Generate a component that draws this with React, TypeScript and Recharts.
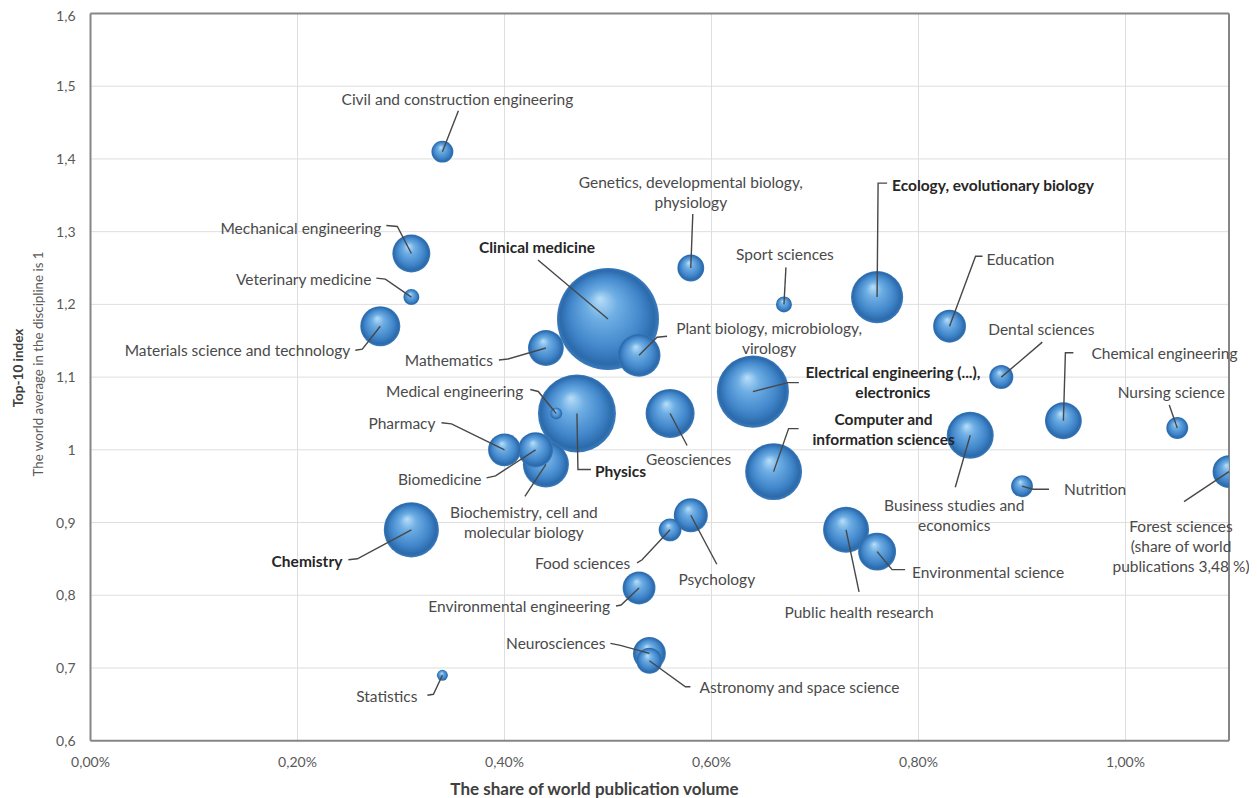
import { ScatterChart, Scatter, XAxis, YAxis, ZAxis, CartesianGrid, ReferenceLine } from "recharts";

// disciplines, share of world publications (%), top-10 index, relative bubble size
const disciplines = [
  "Civil and construction engineering",
  "Mechanical engineering",
  "Veterinary medicine",
  "Materials science and technology",
  "Clinical medicine",
  "Mathematics",
  "Plant biology, microbiology, virology",
  "Genetics, developmental biology, physiology",
  "Sport sciences",
  "Ecology, evolutionary biology",
  "Education",
  "Dental sciences",
  "Electrical engineering (...), electronics",
  "Medical engineering",
  "Physics",
  "Geosciences",
  "Chemical engineering",
  "Nursing science",
  "Computer and information sciences",
  "Business studies and economics",
  "Pharmacy",
  "Biomedicine",
  "Biochemistry, cell and molecular biology",
  "Nutrition",
  "Forest sciences",
  "Chemistry",
  "Food sciences",
  "Psychology",
  "Public health research",
  "Environmental science",
  "Environmental engineering",
  "Neurosciences",
  "Astronomy and space science",
  "Statistics",
];
const share = [
  0.34, 0.31, 0.31, 0.28, 0.5, 0.44, 0.53, 0.58, 0.67, 0.76, 0.83, 0.88, 0.64, 0.45, 0.47, 0.56, 0.94,
  1.05, 0.66, 0.85, 0.4, 0.43, 0.44, 0.9, 1.1, 0.31, 0.56, 0.58, 0.73, 0.76, 0.53, 0.54, 0.54, 0.34,
];
const top10 = [
  1.41, 1.27, 1.21, 1.17, 1.18, 1.14, 1.13, 1.25, 1.2, 1.21, 1.17, 1.1, 1.08, 1.05, 1.05, 1.05, 1.04,
  1.03, 0.97, 1.02, 1.0, 1.0, 0.98, 0.95, 0.97, 0.89, 0.89, 0.91, 0.89, 0.86, 0.81, 0.72, 0.71, 0.69,
];
const bubbleSize = [
  1.2, 3.6, 0.64, 4.0, 26, 3.2, 4.6, 1.8, 0.64, 6.8, 2.7, 1.44, 13, 0.36, 15.2, 6.0, 3.4,
  1.2, 8.1, 5.5, 2.7, 3.1, 5.3, 1.2, 2.7, 7.6, 1.3, 2.9, 5.3, 3.6, 2.7, 2.7, 1.7, 0.3,
];
const boldLabels = [
  "Clinical medicine",
  "Ecology, evolutionary biology",
  "Electrical engineering (...), electronics",
  "Physics",
  "Computer and information sciences",
  "Chemistry",
];
const xTicks = [0, 0.2, 0.4, 0.6, 0.8, 1.0];
const yTicks = [0.6, 0.7, 0.8, 0.9, 1.0, 1.1, 1.2, 1.3, 1.4, 1.5, 1.6];

// label placement: text lines, anchor, offset from bubble centre (px), leader line bends
type Lay = { lines: string[]; anchor: "start" | "middle" | "end"; dx: number; dy: number; leader: number[][] };
const labelLayout: Record<string, Lay> = {
  "Civil and construction engineering": { lines: ["Civil and construction engineering"], anchor: "middle", dx: 15, dy: -53, leader: [[16, -41]] },
  "Mechanical engineering": { lines: ["Mechanical engineering"], anchor: "end", dx: -30, dy: -25, leader: [[-25, -28], [-14, -27]] },
  "Veterinary medicine": { lines: ["Veterinary medicine"], anchor: "end", dx: -40, dy: -18, leader: [[-35, -19], [-26, -18]] },
  "Materials science and technology": { lines: ["Materials science and technology"], anchor: "end", dx: -30, dy: 24, leader: [[-25, 24], [-18, 23]] },
  "Clinical medicine": { lines: ["Clinical medicine"], anchor: "middle", dx: -71, dy: -72, leader: [[-70, -59]] },
  Mathematics: { lines: ["Mathematics"], anchor: "end", dx: -53, dy: 12, leader: [[-47, 12], [-38, 11]] },
  "Plant biology, microbiology, virology": { lines: ["Plant biology, microbiology,", "virology"], anchor: "middle", dx: 130, dy: -27, leader: [[28, -19], [18, -18]] },
  "Genetics, developmental biology, physiology": { lines: ["Genetics, developmental biology,", "physiology"], anchor: "middle", dx: 0, dy: -86, leader: [[2, -54]] },
  "Sport sciences": { lines: ["Sport sciences"], anchor: "middle", dx: 1, dy: -50, leader: [[2, -37]] },
  "Ecology, evolutionary biology": { lines: ["Ecology, evolutionary biology"], anchor: "start", dx: 15, dy: -112, leader: [[10, -114], [1, -114]] },
  Education: { lines: ["Education"], anchor: "start", dx: 37, dy: -67, leader: [[33, -70], [26, -70]] },
  "Dental sciences": { lines: ["Dental sciences"], anchor: "middle", dx: 40, dy: -48, leader: [[41, -35]] },
  "Electrical engineering (...), electronics": { lines: ["Electrical engineering (...),", "electronics"], anchor: "middle", dx: 140, dy: -20, leader: [[46, -9], [35, -9]] },
  "Medical engineering": { lines: ["Medical engineering"], anchor: "end", dx: -33, dy: -22, leader: [[-26, -24], [-18, -22]] },
  Physics: { lines: ["Physics"], anchor: "start", dx: 18, dy: 58, leader: [[14, 56], [1, 56]] },
  Geosciences: { lines: ["Geosciences"], anchor: "start", dx: -24, dy: 46, leader: [[17, 32]] },
  "Chemical engineering": { lines: ["Chemical engineering"], anchor: "start", dx: 28, dy: -68, leader: [[10, -68], [2, -68]] },
  "Nursing science": { lines: ["Nursing science"], anchor: "middle", dx: -6, dy: -36, leader: [[-8, -23]] },
  "Computer and information sciences": { lines: ["Computer and", "information sciences"], anchor: "middle", dx: 110, dy: -53, leader: [[25, -43], [15, -43]] },
  "Business studies and economics": { lines: ["Business studies and", "economics"], anchor: "middle", dx: -16, dy: 70, leader: [[-15, 52]] },
  Pharmacy: { lines: ["Pharmacy"], anchor: "end", dx: -69, dy: -27, leader: [[-63, -27], [-53, -26]] },
  Biomedicine: { lines: ["Biomedicine"], anchor: "end", dx: -54, dy: 29, leader: [[-49, 28], [-40, 26]] },
  "Biochemistry, cell and molecular biology": { lines: ["Biochemistry, cell and", "molecular biology"], anchor: "middle", dx: -22, dy: 48, leader: [[-21, 32]] },
  Nutrition: { lines: ["Nutrition"], anchor: "start", dx: 42, dy: 3, leader: [[27, 3], [11, 3]] },
  "Forest sciences": { lines: ["Forest sciences", "(share of world", "publications 3,48 %)"], anchor: "middle", dx: -48, dy: 54, leader: [[-45, 30]] },
  Chemistry: { lines: ["Chemistry"], anchor: "end", dx: -69, dy: 31, leader: [[-63, 30], [-54, 29]] },
  "Food sciences": { lines: ["Food sciences"], anchor: "end", dx: -40, dy: 33, leader: [[-33, 33], [-28, 30]] },
  Psychology: { lines: ["Psychology"], anchor: "middle", dx: 26, dy: 64, leader: [[26, 49]] },
  "Public health research": { lines: ["Public health research"], anchor: "middle", dx: 13, dy: 82, leader: [[13, 62]] },
  "Environmental science": { lines: ["Environmental science"], anchor: "start", dx: 35, dy: 20, leader: [[28, 18], [15, 18]] },
  "Environmental engineering": { lines: ["Environmental engineering"], anchor: "end", dx: -29, dy: 18, leader: [[-23, 18], [-18, 17]] },
  Neurosciences: { lines: ["Neurosciences"], anchor: "end", dx: -44, dy: -10, leader: [[-39, -10], [-29, -8]] },
  "Astronomy and space science": { lines: ["Astronomy and space science"], anchor: "start", dx: 50, dy: 26, leader: [[41, 26], [36, 26]] },
  Statistics: { lines: ["Statistics"], anchor: "end", dx: -25, dy: 21, leader: [[-15, 20], [-9, 19]] },
};

const data = disciplines
  .map((name, i) => ({ name, share: share[i], top10: top10[i], size: bubbleSize[i] }))
  .sort((a, b) => b.size - a.size);

const fmtX = (v: number) => v.toFixed(2).replace(".", ",") + "%";
const fmtY = (v: number) => (v === 1 ? "1" : v.toFixed(1).replace(".", ","));

const Bubble = (props: any) => {
  const { cx, cy, width, size } = props;
  const r = width ? width / 2 : Math.sqrt(size / Math.PI);
  return <circle cx={cx} cy={cy} r={r} fill="url(#sphere)" />;
};

const LabelMark = (props: any) => {
  const { cx, cy, payload } = props;
  const lay = labelLayout[payload.name];
  if (!lay) return <g />;
  const bold = boldLabels.includes(payload.name);
  const pts = [...lay.leader, [0, 0]].map(([dx, dy]) => `${cx + dx},${cy + dy}`).join(" ");
  return (
    <g>
      <polyline points={pts} fill="none" stroke="#474747" strokeWidth={1.4} />
      <text
        textAnchor={lay.anchor}
        dominantBaseline="central"
        fontSize={15.5}
        fontWeight={bold ? 700 : 400}
        fill={bold ? "#262626" : "#4a4a4a"}
      >
        {lay.lines.map((l, i) => (
          <tspan key={i} x={cx + lay.dx} y={cy + lay.dy + i * 20}>
            {l}
          </tspan>
        ))}
      </text>
    </g>
  );
};

export default function App() {
  return (
    <div style={{ width: 1249, height: 790, fontFamily: "Lato, 'Open Sans', sans-serif" }}>
      <ScatterChart width={1249} height={790} margin={{ top: 5.5, right: 28, bottom: 0, left: 0 }}>
        <defs>
          <radialGradient id="sphere" cx="0.5" cy="0.5" r="0.5" fx="0.42" fy="0.3">
            <stop offset="0%" stopColor="#b9def8" />
            <stop offset="30%" stopColor="#6eaee4" />
            <stop offset="70%" stopColor="#4287cb" />
            <stop offset="92%" stopColor="#2b6aab" />
            <stop offset="100%" stopColor="#3b7cbd" />
          </radialGradient>
        </defs>
        <CartesianGrid stroke="#dedede" strokeWidth={1} />
        <XAxis
          type="number"
          dataKey="share"
          domain={[0, 1.1]}
          ticks={xTicks}
          tickFormatter={fmtX}
          allowDataOverflow
          height={57.3}
          tickLine={false}
          tickSize={0}
          tickMargin={16}
          axisLine={{ stroke: "#868686", strokeWidth: 2 }}
          tick={{ fill: "#595959", fontSize: 14 }}
        />
        <XAxis xAxisId="lab" type="number" dataKey="share" domain={[0, 1.1]} hide />
        <YAxis
          type="number"
          dataKey="top10"
          domain={[0.6, 1.6]}
          ticks={yTicks}
          tickFormatter={fmtY}
          width={82.5}
          tickLine={false}
          tickSize={0}
          tickMargin={15}
          axisLine={{ stroke: "#868686", strokeWidth: 2 }}
          tick={{ fill: "#595959", fontSize: 14 }}
        />
        <ZAxis type="number" dataKey="size" domain={[0, 26]} range={[0, Math.PI * 51 * 51]} />
        <Scatter data={data} shape={Bubble} isAnimationActive={false} />
        <ReferenceLine y={1.6} stroke="#868686" strokeWidth={2} />
        <ReferenceLine x={1.1} stroke="#868686" strokeWidth={2} />
        <Scatter data={data} xAxisId="lab" shape={LabelMark} isAnimationActive={false} />
        <text transform="translate(10,360) rotate(-90)" textAnchor="middle" dominantBaseline="central" fontSize={13.5} fontWeight={700} fill="#404040">
          Top-10 index
        </text>
        <text transform="translate(30,356) rotate(-90)" textAnchor="middle" dominantBaseline="central" fontSize={13.3} fill="#595959">
          The world average in the discipline is 1
        </text>
        <text x={586.5} y={780} textAnchor="middle" dominantBaseline="central" fontSize={17} fontWeight={700} fill="#404040">
          The share of world publication volume
        </text>
      </ScatterChart>
    </div>
  );
}
